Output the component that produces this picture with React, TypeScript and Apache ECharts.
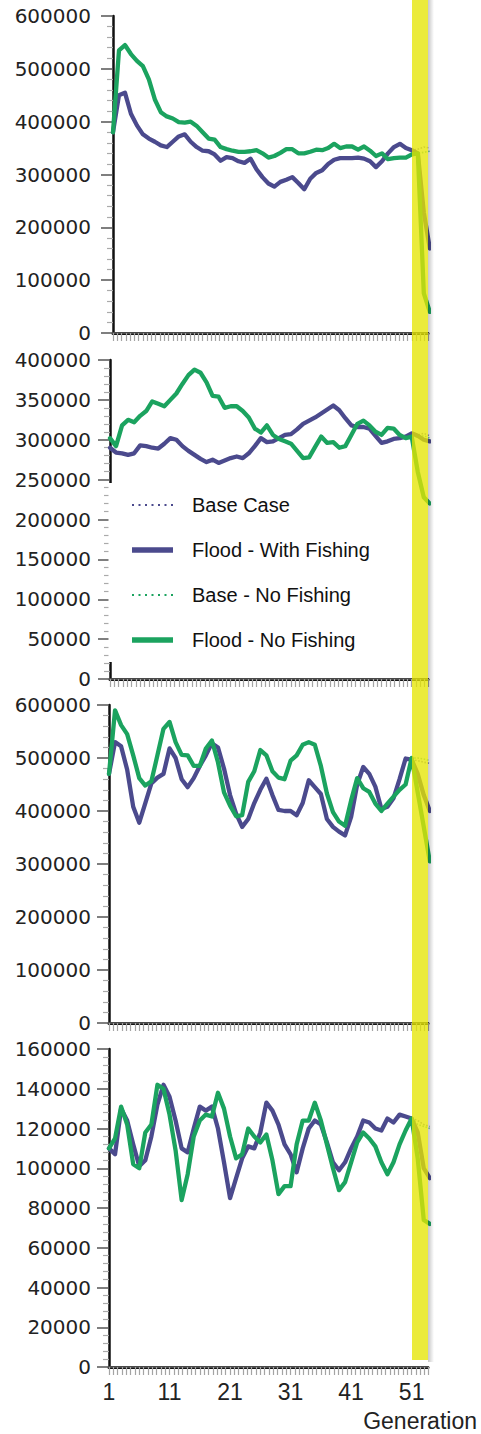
import React, { useEffect, useRef } from "react";
import * as echarts from "echarts";

// ---- data ----
const seriesNames = ["Base Case", "Flood - With Fishing", "Base - No Fishing", "Flood - No Fishing"];
const xTickLabels = [1, 11, 21, 31, 41, 51];
const yMax = [600000, 400000, 600000, 160000];
const yStep = [100000, 50000, 100000, 20000];

const floodFishing1 = [
  380000, 450000, 455000, 415000, 393000, 376000, 368000, 362000, 355000, 352000,
  362000, 372000, 376000, 362000, 352000, 345000, 344000, 338000, 326000, 333000,
  331000, 325000, 322000, 330000, 310000, 295000, 283000, 277000, 286000, 290000,
  295000, 284000, 272000, 292000, 303000, 308000, 320000, 328000, 331000, 331000,
  331000, 332000, 330000, 325000, 314000, 325000, 340000, 352000, 358000, 350000,
  346000, 340000, 228000, 160000,
];
const floodNoFishing1 = [
  380000, 535000, 545000, 528000, 515000, 505000, 480000, 442000, 418000, 410000,
  406000, 399000, 398000, 400000, 392000, 380000, 368000, 366000, 352000, 348000,
  345000, 343000, 343000, 344000, 346000, 340000, 332000, 335000, 341000, 348000,
  348000, 340000, 340000, 343000, 347000, 346000, 350000, 358000, 350000, 353000,
  353000, 347000, 353000, 345000, 335000, 340000, 329000, 331000, 332000, 332000,
  338000, 340000, 75000, 40000,
];
const baseTail1 = [348000, 352000, 350000];
const baseNoFishTail1 = [340000, 342000, 344000];

const floodFishing2 = [
  290000, 284000, 283000, 281000, 283000, 293000, 292000, 290000, 289000, 295000,
  302000, 300000, 292000, 286000, 281000, 276000, 272000, 275000, 271000, 274000,
  277000, 279000, 277000, 283000, 292000, 302000, 297000, 298000, 302000, 306000,
  307000, 313000, 320000, 324000, 328000, 333000, 338000, 343000, 337000, 327000,
  318000, 316000, 316000, 314000, 305000, 296000, 298000, 301000, 302000, 304000,
  308000, 305000, 300000, 298000,
];
const floodNoFishing2 = [
  302000, 292000, 318000, 325000, 322000, 330000, 336000, 348000, 345000, 342000,
  350000, 358000, 370000, 381000, 388000, 384000, 372000, 355000, 354000, 340000,
  342000, 342000, 336000, 328000, 314000, 309000, 318000, 306000, 301000, 298000,
  295000, 286000, 277000, 278000, 291000, 304000, 296000, 297000, 290000, 292000,
  306000, 320000, 324000, 318000, 310000, 306000, 315000, 314000, 306000, 302000,
  304000, 260000, 228000, 220000,
];
const baseTail2 = [306000, 308000, 305000];
const baseNoFishTail2 = [303000, 305000, 302000];

const floodFishing3 = [
  470000, 530000, 522000, 478000, 408000, 378000, 415000, 452000, 463000, 470000,
  518000, 500000, 460000, 445000, 462000, 485000, 505000, 528000, 520000, 480000,
  430000, 395000, 370000, 385000, 415000, 440000, 461000, 430000, 402000, 400000,
  400000, 392000, 415000, 458000, 445000, 432000, 385000, 370000, 361000, 354000,
  389000, 450000, 483000, 470000, 446000, 404000, 408000, 424000, 460000, 499000,
  497000, 470000, 430000, 400000,
];
const floodNoFishing3 = [
  470000, 590000, 562000, 545000, 505000, 462000, 448000, 456000, 505000, 555000,
  568000, 530000, 506000, 505000, 485000, 485000, 518000, 533000, 492000, 435000,
  410000, 390000, 392000, 455000, 475000, 515000, 505000, 475000, 463000, 460000,
  495000, 505000, 525000, 530000, 525000, 485000, 433000, 398000, 380000, 372000,
  420000, 462000, 443000, 436000, 414000, 400000, 414000, 427000, 440000, 450000,
  500000, 435000, 370000, 305000,
];
const baseTail3 = [495000, 492000, 490000];
const baseNoFishTail3 = [500000, 498000, 495000];

const floodFishing4 = [
  110000, 107000, 130000, 124000, 112000, 101000, 104000, 116000, 132000, 142000,
  136000, 124000, 110000, 108000, 120000, 131000, 129000, 131000, 120000, 103000,
  85000, 95000, 105000, 111000, 110000, 118000, 133000, 129000, 122000, 112000,
  107000, 98000, 110000, 120000, 124000, 122000, 113000, 103000, 99000, 103000,
  110000, 116000, 124000, 123000, 120000, 119000, 125000, 123000, 127000, 126000,
  125000, 118000, 100000, 95000,
];
const floodNoFishing4 = [
  110000, 115000, 131000, 122000, 102000, 100000, 118000, 122000, 142000, 140000,
  127000, 109000, 84000, 97000, 116000, 124000, 127000, 126000, 138000, 130000,
  116000, 105000, 107000, 120000, 116000, 113000, 117000, 104000, 87000, 91000,
  91000, 112000, 124000, 124000, 133000, 124000, 112000, 100000, 89000, 93000,
  103000, 113000, 118000, 115000, 111000, 103000, 97000, 103000, 112000, 119000,
  125000, 105000, 74000, 72000,
];
const baseTail4 = [124000, 122000, 121000];
const baseNoFishTail4 = [122000, 121000, 120000];

const floodFishingAll = [floodFishing1, floodFishing2, floodFishing3, floodFishing4];
const floodNoFishingAll = [floodNoFishing1, floodNoFishing2, floodNoFishing3, floodNoFishing4];
const baseTails = [baseTail1, baseTail2, baseTail3, baseTail4];
const baseNoFishTails = [baseNoFishTail1, baseNoFishTail2, baseNoFishTail3, baseNoFishTail4];

// ---- layout / style ----
const NAVY = "#4b4a8d";
const GREEN = "#1ba35f";
const RIGHT_X = 428;
const panels = [
  { left: 113, top: 16, height: 317 },
  { left: 110, top: 360, height: 319 },
  { left: 109, top: 705, height: 318 },
  { left: 109, top: 1049, height: 318 },
];
const X_MIN = 1;
const X_MAX = 53.7;
const FLOOD_START = 51; // points before the flood shared by base and flood runs

const DOTS_ICON =
  "path://M0,0h2v2h-2z M6.5,0h2v2h-2z M13,0h2v2h-2z M19.5,0h2v2h-2z M26,0h2v2h-2z M32.5,0h2v2h-2z M39,0h2v2h-2z";
const BAR_ICON = "path://M0,0h41v5.5h-41z";

const toPoints = (vals: number[]) => vals.map((v, i) => [i + 1, v]);

function buildOption() {
  const grid: any[] = [];
  const xAxis: any[] = [];
  const yAxis: any[] = [];
  const series: any[] = [];

  panels.forEach((p, k) => {
    grid.push({
      left: p.left,
      top: p.top,
      width: RIGHT_X - p.left,
      height: p.height,
      containLabel: false,
      outerBoundsMode: "none",
    });
    const isLast = k === panels.length - 1;
    xAxis.push({
      type: "value",
      gridIndex: k,
      min: X_MIN,
      max: X_MAX,
      interval: 10 / 14,
      z: 1,
      axisLine: { show: true, onZero: false, lineStyle: { color: "#111", width: 3 } },
      axisTick: { show: true, length: 8, lineStyle: { color: "#a4a4a4", width: 1.2 } },
      splitLine: { show: false },
      axisLabel: {
        show: isLast,
        margin: 13,
        fontFamily: "'Liberation Sans', Arial, sans-serif",
        fontSize: 23,
        color: "#222",
        formatter: (v: number) => {
          const r = Math.round(v);
          return Math.abs(v - r) < 1e-6 && xTickLabels.includes(r) ? String(r) : "";
        },
      },
      name: isLast ? "Generation" : "",
      nameLocation: "end",
      nameGap: 49,
      nameTextStyle: {
        align: "right",
        verticalAlign: "top",
        fontFamily: "'Liberation Sans', Arial, sans-serif",
        fontSize: 23,
        color: "#222",
        padding: [42, 0, 0, 0],
      },
    });
    xAxis.push({
      type: "value",
      gridIndex: k,
      position: "top",
      min: X_MIN,
      max: X_MAX,
      z: 1,
      axisLine: { show: true, lineStyle: { color: "#4a4a4a", width: 2 } },
      axisTick: { show: false },
      axisLabel: { show: false },
      splitLine: { show: false },
    });
    yAxis.push({
      type: "value",
      gridIndex: k,
      min: 0,
      max: yMax[k],
      interval: yStep[k],
      z: 1,
      axisLine: { show: true, lineStyle: { color: "#111", width: 2.5 } },
      axisTick: { show: true, length: 12, lineStyle: { color: "#555", width: 1.5 } },
      minorTick: { show: true, splitNumber: 5, length: 6, lineStyle: { color: "#aaa", width: 1.2 } },
      splitLine: { show: false },
      minorSplitLine: { show: false },
      axisLabel: {
        margin: p.left - 91,
        fontFamily: "'DejaVu Sans', sans-serif",
        fontSize: 20,
        color: "#222",
        formatter: (v: number) => String(v),
      },
    });

    const flood = floodFishingAll[k];
    const floodNo = floodNoFishingAll[k];
    const baseCase = [...flood.slice(0, FLOOD_START), ...baseTails[k]];
    const baseNo = [...floodNo.slice(0, FLOOD_START), ...baseNoFishTails[k]];
    const common = {
      type: "line",
      xAxisIndex: k * 2,
      yAxisIndex: k,
      symbol: "none",
      showSymbol: false,
      clip: true,
      animation: false,
    };
    series.push({
      ...common,
      name: seriesNames[0],
      data: toPoints(baseCase),
      itemStyle: { color: NAVY },
      lineStyle: { color: NAVY, width: 1.6, type: "dotted", opacity: 0.6 },
    });
    series.push({
      ...common,
      name: seriesNames[1],
      data: toPoints(flood),
      itemStyle: { color: NAVY },
      lineStyle: { color: NAVY, width: 4.3, join: "round", cap: "round" },
    });
    series.push({
      ...common,
      name: seriesNames[2],
      data: toPoints(baseNo),
      itemStyle: { color: GREEN },
      lineStyle: { color: GREEN, width: 1.6, type: "dotted", opacity: 0.6 },
    });
    series.push({
      ...common,
      name: seriesNames[3],
      data: toPoints(floodNo),
      itemStyle: { color: GREEN },
      lineStyle: { color: GREEN, width: 4.3, join: "round", cap: "round" },
    });
  });

  return {
    animation: false,
    backgroundColor: "#ffffff",
    grid,
    xAxis,
    yAxis,
    series,
    legend: {
      orient: "vertical",
      left: 108.5,
      top: 483,
      z: 6,
      selectedMode: false,
      backgroundColor: "#ffffff",
      padding: [10.5, 10, 10.5, 23.5],
      itemWidth: 41,
      itemHeight: 6,
      itemGap: 22,
      textStyle: {
        fontFamily: "'Liberation Sans', Arial, sans-serif",
        fontSize: 20,
        lineHeight: 23,
        color: "#111",
        padding: [0, 0, 0, 14],
      },
      data: [
        { name: seriesNames[0], icon: DOTS_ICON, itemStyle: { color: NAVY } },
        { name: seriesNames[1], icon: BAR_ICON, itemStyle: { color: NAVY } },
        { name: seriesNames[2], icon: DOTS_ICON, itemStyle: { color: GREEN } },
        { name: seriesNames[3], icon: BAR_ICON, itemStyle: { color: GREEN } },
      ],
    },
    graphic: [
      {
        type: "rect",
        z: 9,
        silent: true,
        shape: { x: RIGHT_X, y: 0, width: 6, height: 1362 },
        style: {
          fill: new echarts.graphic.LinearGradient(0, 0, 1, 0, [
            { offset: 0, color: "rgba(0,0,0,0.22)" },
            { offset: 1, color: "rgba(0,0,0,0)" },
          ]),
        },
      },
      {
        type: "rect",
        z: 10,
        silent: true,
        shape: { x: 412, y: 0, width: RIGHT_X - 412, height: 1360 },
        style: { fill: "rgba(229,229,0,0.77)" },
      },
    ],
  };
}

export default function App() {
  const ref = useRef<HTMLDivElement>(null);
  useEffect(() => {
    if (!ref.current) return;
    const chart = echarts.init(ref.current, undefined, { renderer: "svg" });
    chart.setOption(buildOption() as any);
    return () => chart.dispose();
  }, []);
  return (
    <div
      ref={ref}
      style={{ position: "absolute", left: 0, top: 0, width: 481, height: 1434, background: "#fff" }}
    />
  );
}
